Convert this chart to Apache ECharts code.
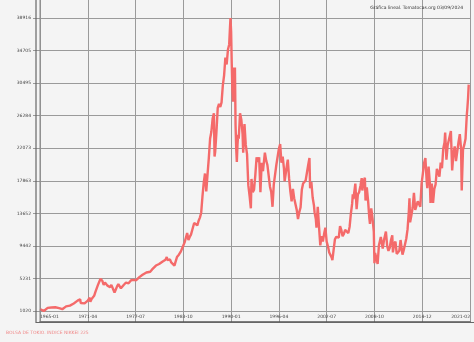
<!DOCTYPE html>
<html>
<head>
<meta charset="utf-8">
<script src="https://cdn.jsdelivr.net/npm/echarts@6/dist/echarts.min.js"></script>
<style>
html,body{margin:0;padding:0;background:#f4f4f4;}
#c{width:474px;height:342px;}
</style>
</head>
<body>
<div id="c"></div>
<script>
// ---- data (monthly approx., Nikkei 225) ----
const dates = [
"1965-01","1965-04","1965-07","1965-10","1966-01","1966-04","1966-07","1966-10","1967-01","1967-04","1967-07","1967-10","1967-12",
"1968-03","1968-06","1968-09","1968-12","1969-03","1969-06","1969-09","1969-12","1970-02","1970-04","1970-05","1970-08","1970-11",
"1971-01","1971-04","1971-06","1971-07","1971-08","1971-10","1971-12","1972-02","1972-04","1972-06","1972-08","1972-10","1972-12",
"1973-01","1973-03","1973-05","1973-07","1973-09","1973-11","1974-01","1974-03","1974-05","1974-07","1974-08","1974-10","1974-12",
"1975-02","1975-04","1975-06","1975-08","1975-10","1975-12","1976-02","1976-04","1976-06","1976-08","1976-10","1976-12",
"1977-02","1977-04","1977-06","1977-08","1977-10","1977-11","1978-01","1978-04","1978-06","1978-09","1978-12",
"1979-03","1979-06","1979-09","1979-12","1980-03","1980-05","1980-08","1980-11","1981-01","1981-04","1981-06","1981-08","1981-09","1981-11",
"1982-01","1982-03","1982-05","1982-08","1982-10","1982-12","1983-03","1983-06","1983-09","1983-12",
"1984-02","1984-04","1984-06","1984-08","1984-10","1984-12","1985-03","1985-06","1985-08","1985-10","1985-12",
"1986-02","1986-04","1986-06","1986-08","1986-10","1986-12","1987-02","1987-04","1987-06","1987-08","1987-10","1987-11","1987-12",
"1988-02","1988-04","1988-06","1988-08","1988-10","1988-12","1989-02","1989-04","1989-06","1989-08","1989-10","1989-11","1989-12",
"1990-01","1990-02","1990-03","1990-04","1990-05","1990-06","1990-07","1990-08","1990-09","1990-10","1990-11","1990-12",
"1991-01","1991-03","1991-05","1991-07","1991-08","1991-10","1991-12","1992-02","1992-04","1992-06","1992-08","1992-09","1992-11",
"1993-01","1993-03","1993-05","1993-07","1993-09","1993-11","1994-01","1994-03","1994-06","1994-08","1994-10","1994-12",
"1995-02","1995-04","1995-06","1995-08","1995-10","1995-12","1996-02","1996-04","1996-06","1996-08","1996-10","1996-12",
"1997-01","1997-03","1997-05","1997-06","1997-08","1997-10","1997-12","1998-02","1998-04","1998-06","1998-08","1998-10","1998-12",
"1999-02","1999-04","1999-06","1999-08","1999-10","1999-12","2000-02","2000-04","2000-05","2000-07","2000-09","2000-11","2000-12",
"2001-02","2001-03","2001-05","2001-07","2001-09","2001-11","2002-01","2002-03","2002-05","2002-07","2002-09","2002-11",
"2003-01","2003-03","2003-04","2003-06","2003-08","2003-10","2003-12","2004-02","2004-04","2004-06","2004-08","2004-10","2004-12",
"2005-03","2005-05","2005-07","2005-09","2005-11","2005-12","2006-01","2006-04","2006-06","2006-08","2006-10","2006-12",
"2007-02","2007-03","2007-05","2007-07","2007-08","2007-10","2007-12","2008-02","2008-03","2008-05","2008-07","2008-09","2008-10","2008-11",
"2009-01","2009-03","2009-05","2009-08","2009-11","2010-01","2010-04","2010-06","2010-08","2010-10","2010-12",
"2011-02","2011-03","2011-05","2011-07","2011-09","2011-11","2012-01","2012-03","2012-06","2012-08","2012-10","2012-12",
"2013-02","2013-04","2013-05","2013-06","2013-08","2013-10","2013-12","2014-02","2014-04","2014-06","2014-08","2014-10","2014-12",
"2015-02","2015-04","2015-06","2015-08","2015-09","2015-11","2016-01","2016-02","2016-04","2016-06","2016-08","2016-10","2016-12",
"2017-03","2017-04","2017-06","2017-08","2017-10","2017-12","2018-01","2018-03","2018-05","2018-07","2018-10","2018-12",
"2019-02","2019-04","2019-06","2019-08","2019-10","2019-12","2020-02","2020-03","2020-05","2020-07","2020-09","2020-11","2020-12",
"2021-01","2021-02"
];
const values = [
1260,1180,1020,1200,1420,1580,1480,1450,1510,1430,1390,1300,1250,
1400,1620,1740,1720,1850,2000,2120,2360,2460,2530,2050,2120,2000,
2120,2360,2500,2740,2200,2580,2710,2980,3500,3700,4400,4200,5200,
5360,4900,4400,4700,4800,4300,4200,4100,4400,4300,3800,3400,3800,
4200,4500,4400,3950,4100,4350,4600,4700,4900,4600,4800,4990,
5100,5050,5150,5000,4950,4800,5400,5600,5700,5800,6000,
6250,6100,6400,6570,6900,6800,7100,7000,7400,7550,7650,8000,7600,7800,
7700,7300,7400,6900,7100,8000,8300,8700,9300,9900,
10500,11100,10200,10600,10900,11500,12400,12600,12100,12700,13100,
13700,15800,17600,18800,16500,18700,20800,23300,24200,25900,26600,21000,21600,
24200,27300,27800,27400,28000,30200,31500,33800,32900,34800,35500,37300,38916,
37200,33000,29500,28100,32500,31900,32500,25000,22000,20300,22500,23800,
23300,26600,25800,23900,21500,25200,22500,21300,17300,15900,14300,18100,16400,
16700,18600,20900,20300,20900,16400,20200,19100,21500,20500,19900,19700,
17100,16400,14500,17400,17600,19900,20100,22000,22600,20200,21000,19400,
17800,18000,20100,20600,18200,16500,15200,16800,15600,15800,14100,12900,13800,
14400,16700,17500,17400,17900,18900,19900,20800,16900,17700,15700,14700,13800,
12900,11800,14500,11900,9500,10700,10000,11000,11800,10000,9400,8600,
8400,7900,7600,9000,10300,10600,10700,10500,12000,11500,10700,11000,11500,
11700,11100,11900,13600,14900,16100,15500,17500,14200,16100,16400,17200,
18200,16600,17800,18260,15300,17000,15300,13000,12300,14300,13000,11300,7200,8500,
7900,7100,9500,10600,9100,10200,11300,9400,8800,9200,10200,
10800,8600,9700,10000,8400,8200,8800,10200,8300,8900,8700,10400,
11600,13900,15600,12500,13400,14400,16300,14100,13900,15200,15400,14500,17500,
18800,20200,20800,17800,16900,19700,17500,15000,17500,15000,16800,17400,19400,
19600,18400,20200,19500,22000,22800,24100,20600,22500,22600,24300,19200,
21400,22300,20400,20200,22900,23900,22000,16600,21900,22500,23300,26400,27400,
28600,30300
];
const xTickLabels = ["1965-01","1971-04","1977-07","1983-10","1990-01","1996-04","2002-07","2008-10","2014-12","2021-02"];
const yTickLabels = ["1020","5231","9442","13652","17863","22073","26284","30495","34705","38916"];
const titleText = "Gráfica lineal. Tomatocas.org 03/09/2024";
const footText = "BOLSA DE TOKIO. INDICE NIKKEI 225";

// ---- build ----
const startYear = 1965;
const seriesData = dates.map((d, i) => {
  const [y, m] = d.split("-").map(Number);
  return [(y - startYear) * 12 + (m - 1), values[i]];
});
const xMin = 0, xStep = 75, xMax = xStep * (xTickLabels.length - 1);
const yMin = Number(yTickLabels[0]), yMax = Number(yTickLabels[yTickLabels.length - 1]);
const yStep = (yMax - yMin) / (yTickLabels.length - 1);

const chart = echarts.init(document.getElementById('c'), null, {renderer: 'canvas'});
const gridColor = '#9a9a9a';
chart.setOption({
  backgroundColor: '#f4f4f4',
  animation: false,
  title: {
    text: titleText, right: 6, top: 0,
    textStyle: {fontSize: 4.5, fontWeight: 'normal', color: '#333', fontFamily: 'DejaVu Sans'}
  },
  grid: [
    {left: 40, right: 4, top: 0, bottom: 20},
    {left: 40, right: 4, top: 18, bottom: 31}
  ],
  xAxis: [
    {
      gridIndex: 0, type: 'value', min: xMin, max: xMax, interval: xStep,
      axisLine: {show: true, lineStyle: {color: '#555', width: 1.5}},
      axisTick: {show: false},
      splitLine: {show: true, lineStyle: {color: gridColor, width: 1}},
      axisLabel: {
        inside: true, margin: 3, fontSize: 4.5, color: '#444', fontFamily: 'DejaVu Sans',
        alignMinLabel: 'left', alignMaxLabel: 'right',
        formatter: v => xTickLabels[Math.round((v - xMin) / xStep)] || ''
      }
    },
    {
      gridIndex: 1, type: 'value', min: xMin, max: xMax, show: false
    }
  ],
  yAxis: [
    {gridIndex: 0, type: 'value', min: 0, max: 1, show: false},
    {
      gridIndex: 1, type: 'value', min: yMin, max: yMax, interval: yStep,
      axisLine: {show: false},
      axisTick: {show: true, length: 7, lineStyle: {color: gridColor}},
      splitLine: {show: true, lineStyle: {color: gridColor, width: 1}},
      axisLabel: {
        margin: 9, fontSize: 4.5, color: '#444', fontFamily: 'DejaVu Sans',
        formatter: v => yTickLabels[Math.round((v - yMin) / yStep)] || ''
      }
    }
  ],
  graphic: [
    {type: 'line', shape: {x1: 36, y1: 0, x2: 36, y2: 323}, style: {stroke: '#666', lineWidth: 1.2}, z: 10},
    {type: 'line', shape: {x1: 40, y1: 0, x2: 40, y2: 322}, style: {stroke: '#888', lineWidth: 1}, z: 10},
    {type: 'line', shape: {x1: 36, y1: 322.5, x2: 474, y2: 322.5}, style: {stroke: '#666', lineWidth: 1.2}, z: 10},
    {type: 'text', left: 6, top: 330, style: {text: footText, fontSize: 4.5, fill: '#f08a8a', fontFamily: 'DejaVu Sans'}}
  ],
  series: [{
    type: 'line', xAxisIndex: 1, yAxisIndex: 1,
    data: seriesData, showSymbol: false, symbol: 'none',
    lineStyle: {color: '#f46a6a', width: 2.4},
    z: 5
  }]
});
</script>
</body>
</html>
